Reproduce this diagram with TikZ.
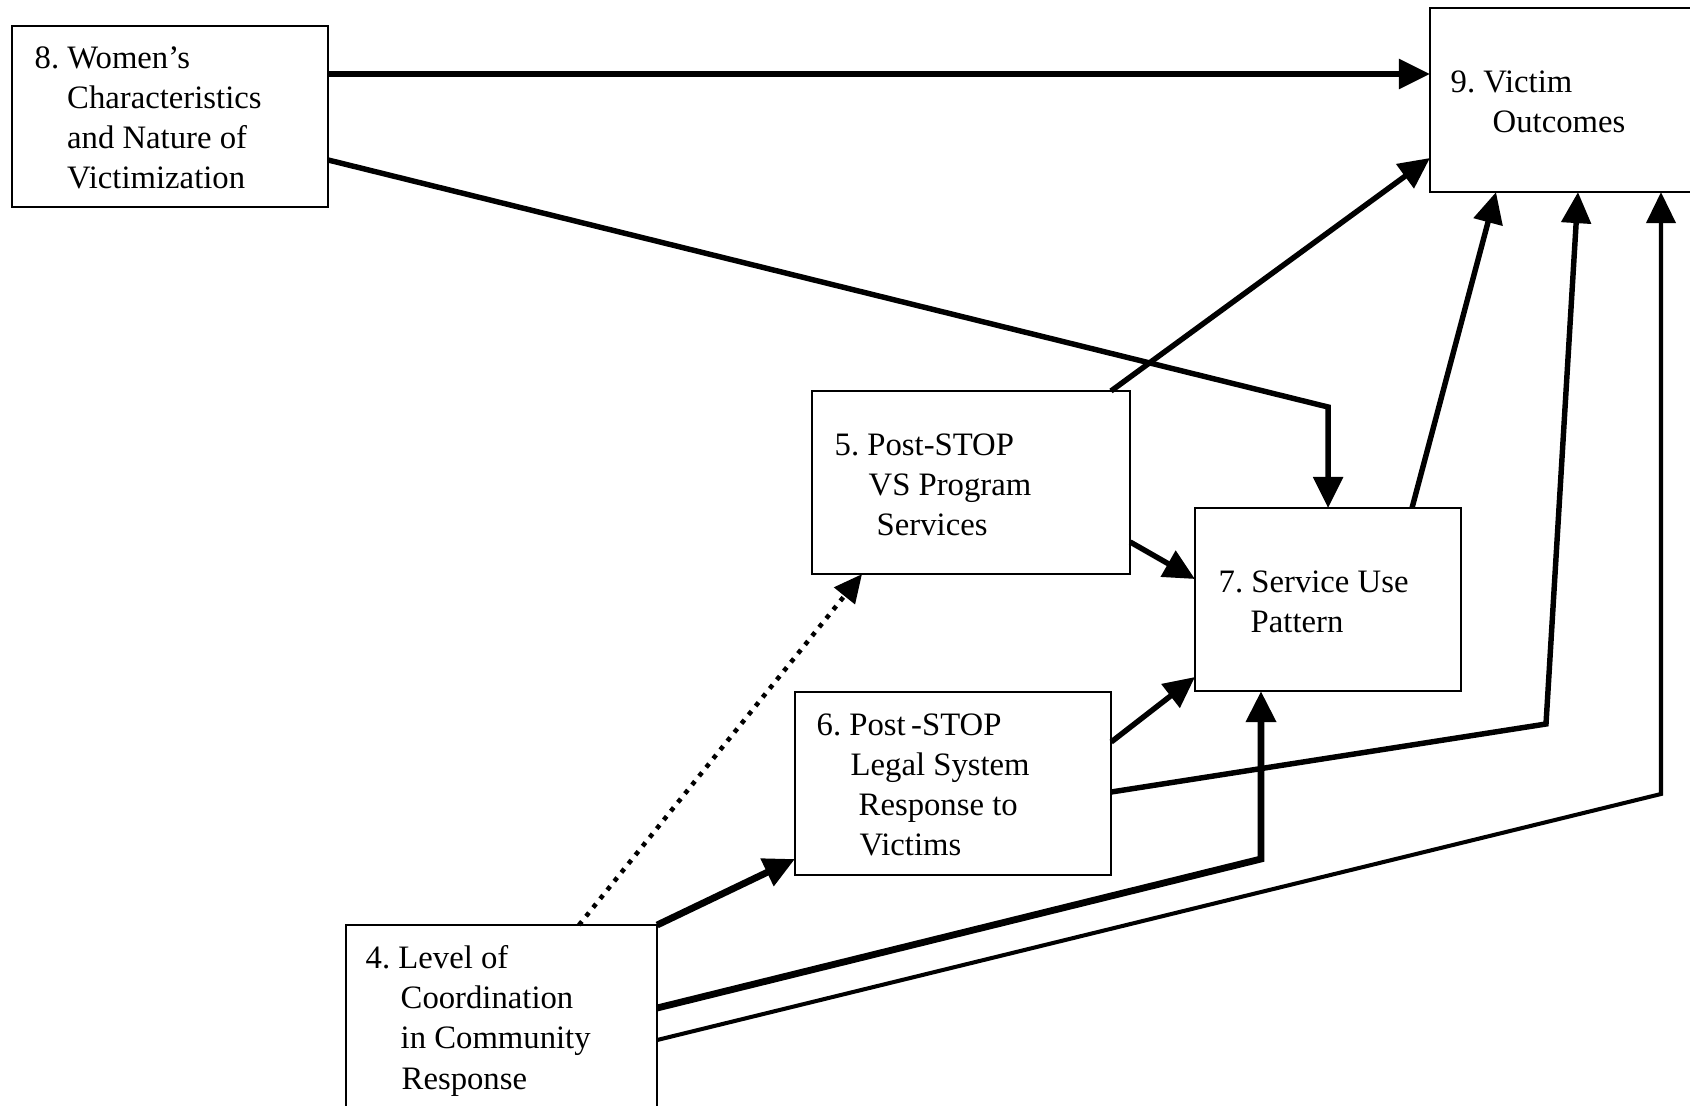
\documentclass[tikz,border=0pt]{standalone}
\usepackage{fontspec}
\setmainfont{Liberation Serif}
\usetikzlibrary{arrows.meta}
\frenchspacing

\tikzset{
  box/.style={draw, line width=0.6pt, inner sep=0pt, outer sep=0pt, anchor=north west},
  txt/.style={inner sep=0pt, anchor=north west, align=left, font=\fontsize{9.3}{11.4}\selectfont},
  arr/.style={line width=1.55pt, -{Triangle[length=0.31cm, width=0.29cm]}},
  heavy/.style={arr, line width=1.95pt},
  light/.style={arr, line width=1.15pt},
  dotarr/.style={arr, line width=1.3pt, dash pattern=on 1.3pt off 1.9pt, -{Triangle[length=0.28cm, width=0.26cm]}}
}

\begin{document}
\begin{tikzpicture}[x=0.01cm, y=-0.01cm]
 \path[use as bounding box, clip] (0,0) rectangle (1690,1106);
 % boxes
 \node[box, minimum width=3.16cm, minimum height=1.81cm] (women) at (12,26) {};
 \node[box, minimum width=2.70cm, minimum height=1.84cm] (outcomes) at (1430,8) {};
 \node[box, minimum width=3.18cm, minimum height=1.83cm] (vs) at (812,391) {};
 \node[box, minimum width=2.66cm, minimum height=1.83cm] (use) at (1195,508) {};
 \node[box, minimum width=3.16cm, minimum height=1.83cm] (legal) at (795,692) {};
 \node[box, minimum width=3.11cm, minimum height=2.10cm] (coord) at (346,925) {};
 % labels
 \node[txt] (women-t) at (34,46) {8. Women’s\\\hspace*{0.325cm}Characteristics\\\hspace*{0.325cm}and Nature of\\\hspace*{0.325cm}Victimization};
 \node[txt] (outcomes-t) at (1450,70) {9. Victim\\\hspace*{0.42cm}Outcomes};
 \node[txt] (vs-t) at (834,433) {5. Post-STOP\\\hspace*{0.34cm}VS Program\\\hspace*{0.42cm}Services};
 \node[txt] (use-t) at (1218,570) {7. Service Use\\\hspace*{0.32cm}Pattern};
 \node[txt] (legal-t) at (816,713) {6. Post\,-STOP\\\hspace*{0.34cm}Legal System\\\hspace*{0.42cm}Response to\\\hspace*{0.43cm}Victims};
 \node[txt] (coord-t) at (365,945) {4. Level of\\\hspace*{0.35cm}Coordination\\\hspace*{0.35cm}in Community\\\hspace*{0.36cm}Response};
 %
 \coordinate (k87) at (use.north |- 0,407);
 \coordinate (k69) at (1546,724);
 \coordinate (k47) at (1261,859);
 \coordinate (k49) at (1661,794);
 % arrows
 \draw[arr] (women.east |- 0,74) -- (outcomes.west |- 0,74);
 \draw[arr] (women.east |- 0,160) -- (k87) -- (use.north);
 \draw[arr] (vs.north -| 1111,0) -- (outcomes.west |- 0,158);
 \draw[arr] (vs.east |- 0,542) -- (use.west |- 0,579);
 \draw[arr] (use.north -| 1412,0) -- (outcomes.south -| 1496,0);
 \draw[arr] (legal.east |- 0,742) -- (use.west |- 0,677);
 \draw[arr] (legal.east |- 0,792) -- (k69) -- (outcomes.south -| 1578,0);
 \draw[heavy] (coord.north east) -- (legal.west |- 0,859);
 \draw[heavy] (coord.east |- 0,1008) -- (k47) -- (use.south -| k47);
 \draw[light] (coord.east |- 0,1040) -- (k49) -- (outcomes.south -| k49);
 \draw[dotarr] (coord.north -| 579,0) -- (vs.south -| 862,0);
\end{tikzpicture}
\end{document}
